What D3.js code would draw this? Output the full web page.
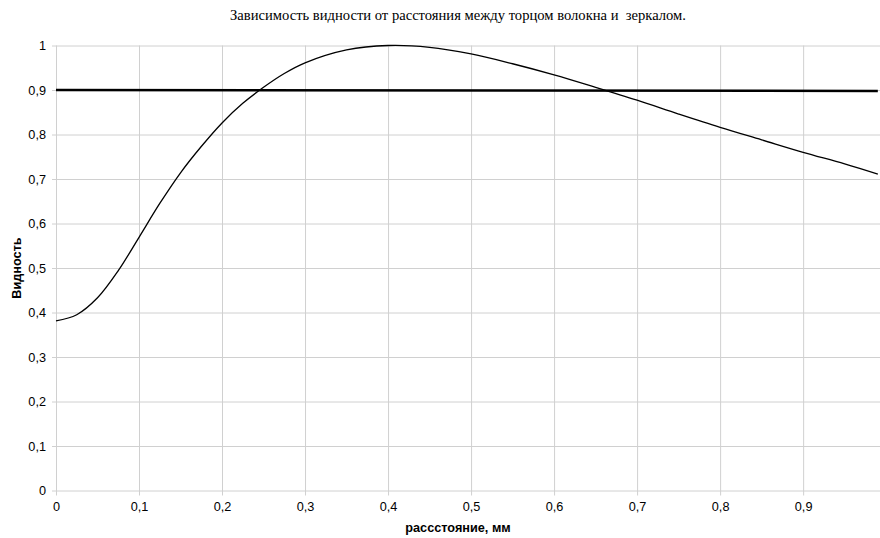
<!DOCTYPE html>
<html>
<head>
<meta charset="utf-8">
<script src="https://cdn.jsdelivr.net/npm/d3@7"></script>
<style>
  body { margin: 0; background: #fff; }
  svg { display: block; }
</style>
</head>
<body>
<svg id="chart" width="880" height="538"></svg>
<script>
const distance = [0, 0.025, 0.05, 0.075, 0.1, 0.125, 0.15, 0.175, 0.2, 0.225, 0.25, 0.275, 0.3,
  0.35, 0.4, 0.45, 0.5, 0.55, 0.6, 0.65, 0.7, 0.75, 0.8, 0.85, 0.9, 0.95, 0.99];
const visibility = [0.381, 0.395, 0.433, 0.494, 0.569, 0.645, 0.714, 0.773, 0.826, 0.870, 0.906, 0.937, 0.961,
  0.990, 1.0, 0.996, 0.981, 0.959, 0.934, 0.906, 0.877, 0.846, 0.816, 0.788, 0.760, 0.734, 0.711];
const levelX = [0, 0.99];
const levelY = [0.9, 0.898];
const xTicks = [0, 0.1, 0.2, 0.3, 0.4, 0.5, 0.6, 0.7, 0.8, 0.9];
const yTicks = [0, 0.1, 0.2, 0.3, 0.4, 0.5, 0.6, 0.7, 0.8, 0.9, 1];

const svg = d3.select("#chart");
const fmt = d => String(+d.toFixed(1)).replace(".", ",");
const sans = "Liberation Sans, Arial, sans-serif";

const x = d3.scaleLinear().domain([0, 0.992]).range([56, 879.5]);
const y = d3.scaleLinear().domain([0, 1]).range([490.5, 45.5]);

// grid
svg.append("g")
  .attr("transform", "translate(0,490.5)")
  .call(d3.axisBottom(x).tickValues(xTicks).tickSize(-445).tickFormat(""))
  .call(g => g.select(".domain").remove())
  .call(g => g.selectAll("line").attr("stroke", "#d0d0d0").attr("y1", 5));

svg.append("g")
  .attr("transform", "translate(56,0)")
  .call(d3.axisLeft(y).tickValues(yTicks).tickSize(-824).tickFormat(""))
  .call(g => g.select(".domain").remove())
  .call(g => g.selectAll("line").attr("stroke", "#d0d0d0").attr("x1", -4));

// tick labels
svg.append("g")
  .attr("transform", "translate(0,490.5)")
  .call(d3.axisBottom(x).tickValues(xTicks).tickSize(0).tickPadding(11).tickFormat(fmt))
  .call(g => g.select(".domain").remove())
  .call(g => g.selectAll("text").attr("font-family", sans).attr("font-size", 12.7).attr("fill", "#000"));

svg.append("g")
  .attr("transform", "translate(56,0)")
  .call(d3.axisLeft(y).tickValues(yTicks).tickSize(0).tickPadding(10).tickFormat(fmt))
  .call(g => g.select(".domain").remove())
  .call(g => g.selectAll("text").attr("font-family", sans).attr("font-size", 12.7).attr("fill", "#000"));

// level line
svg.append("path")
  .datum(levelX.map((d, i) => [d, levelY[i]]))
  .attr("fill", "none")
  .attr("stroke", "#000")
  .attr("stroke-width", 2.5)
  .attr("d", d3.line().x(d => x(d[0])).y(d => y(d[1])));

// curve
svg.append("path")
  .datum(distance.map((d, i) => [d, visibility[i]]))
  .attr("fill", "none")
  .attr("stroke", "#000")
  .attr("stroke-width", 1.3)
  .attr("d", d3.line().x(d => x(d[0])).y(d => y(d[1])).curve(d3.curveCatmullRom.alpha(0.5)));

// titles
svg.append("text")
  .attr("x", 458).attr("y", 20)
  .attr("text-anchor", "middle")
  .attr("font-family", "Liberation Serif, Times New Roman, serif")
  .attr("font-size", 14.6)
  .style("white-space", "pre")
  .text("Зависимость видности от расстояния между торцом волокна и  зеркалом.");

svg.append("text")
  .attr("x", 458).attr("y", 532)
  .attr("text-anchor", "middle")
  .attr("font-family", sans)
  .attr("font-size", 12.7).attr("font-weight", "bold")
  .text("рассстояние, мм");

svg.append("text")
  .attr("transform", "translate(21,268) rotate(-90)")
  .attr("text-anchor", "middle")
  .attr("font-family", sans)
  .attr("font-size", 12.7).attr("font-weight", "bold")
  .text("Видность");
</script>
</body>
</html>
